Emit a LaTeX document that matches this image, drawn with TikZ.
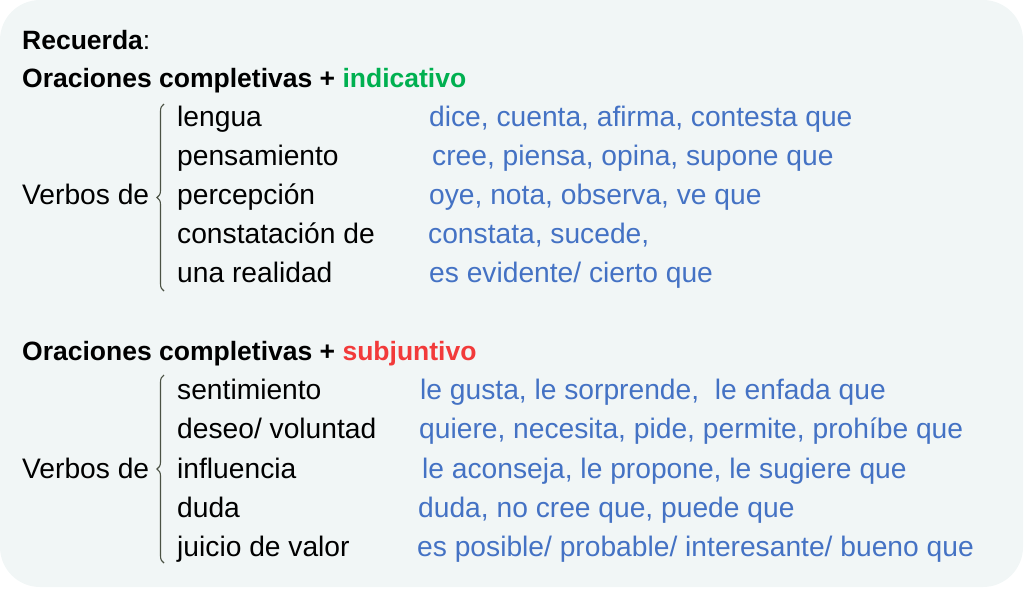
\documentclass[tikz,border=0pt]{standalone}
\usepackage{fontspec}
\setmainfont{Liberation Sans}
\usetikzlibrary{decorations.pathreplacing}

\definecolor{fondo}{HTML}{F1F6F6}
\definecolor{azul}{HTML}{4472C4}
\definecolor{verde}{HTML}{00B050}
\definecolor{rojo}{HTML}{F23A3A}
\definecolor{llavecol}{HTML}{4B5244}

\begin{document}
\begin{tikzpicture}[x=1pt,y=-1pt,
    txt/.style={anchor=base west,inner sep=0pt,font=\fontsize{28.2}{32}\selectfont},
    head/.style={txt,font=\fontsize{26.5}{32}\selectfont\bfseries},
    ejemplo/.style={txt,text=azul},
    llave/.style={draw=llavecol,line width=1.1pt,decorate,
      decoration={brace,amplitude=7pt,aspect=0.5}}]
  \useasboundingbox (0,0) rectangle (1024,590);
  % card
  \fill[fondo,rounded corners=40pt] (0,0) rectangle (1023,587);

  % indicativo
  \node[head] (rec) at (22,49) {Recuerda\mdseries:};
  \node[head] (hind) at (22,87) {Oraciones completivas + \textcolor{verde}{indicativo}};
  \node[txt] (vind) at (22,204) {Verbos de};
  \foreach \n/\yy/\tipo/\xe/\ej in {
      1/126/{lengua}/429/{dice, cuenta, afirma, contesta que},
      2/165/{pensamiento}/432/{cree, piensa, opina, supone que},
      3/204/{percepción}/429/{oye, nota, observa, ve que},
      4/243/{constatación de}/428/{constata, sucede,},
      5/282/{una realidad}/429/{es evidente/ cierto que}}
  {
    \node[txt] (ti\n) at (177,\yy) {\tipo};
    \node[ejemplo] (ei\n) at (\xe,\yy) {\ej};
  }
  \coordinate (bi1) at (164,291);
  \coordinate (bi2) at (164,104);
  \draw[llave] (bi1) -- (bi2);

  % subjuntivo
  \node[head] (hsub) at (22,360) {Oraciones completivas + \textcolor{rojo}{subjuntivo}};
  \node[txt] (vsub) at (22,478) {Verbos de};
  \foreach \n/\yy/\tipo/\xe/\ej in {
      1/399/{sentimiento}/420/{le gusta, le sorprende, \ le enfada que},
      2/438/{deseo/ voluntad}/419/{quiere, necesita, pide, permite, prohíbe que},
      3/478/{influencia}/422/{le aconseja, le propone, le sugiere que},
      4/517/{duda}/418/{duda, no cree que, puede que},
      5/556/{juicio de valor}/417/{es posible/ probable/ interesante/ bueno que}}
  {
    \node[txt] (ts\n) at (177,\yy) {\tipo};
    \node[ejemplo] (es\n) at (\xe,\yy) {\ej};
  }
  \coordinate (bs1) at (164,563);
  \coordinate (bs2) at (164,375);
  \draw[llave] (bs1) -- (bs2);
\end{tikzpicture}
\end{document}
